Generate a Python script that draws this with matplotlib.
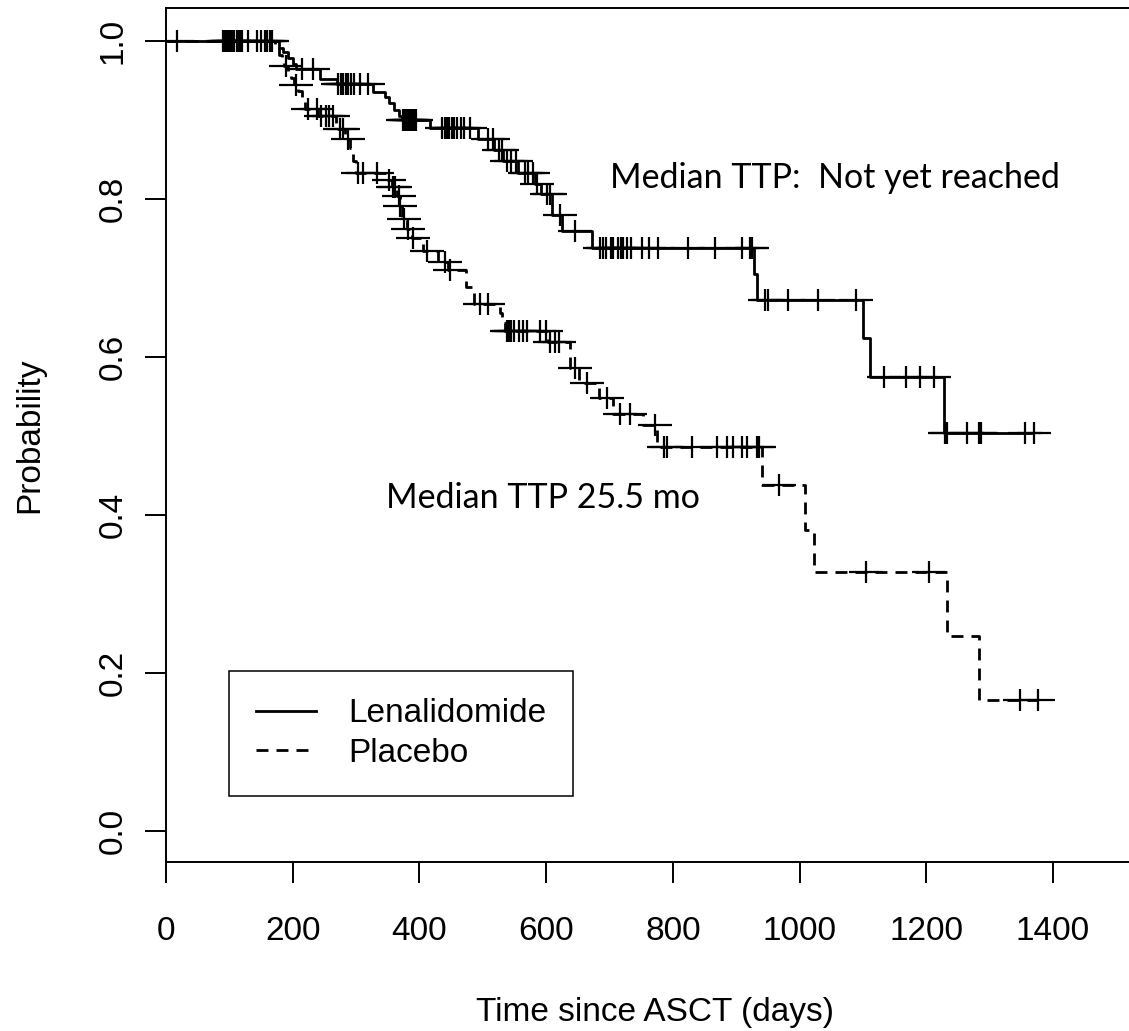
import numpy as np
import matplotlib
matplotlib.use("Agg")
import matplotlib.pyplot as plt
from matplotlib.path import Path
from matplotlib.lines import Line2D

# ---------------- data ----------------
# Lenalidomide arm: event times (days) and survival after each event
len_event_times = [178, 185, 192, 200, 205, 243, 270, 327, 345, 352, 360, 367, 372,
                   417, 492, 518, 532, 555, 582, 592, 610, 625, 672, 928, 933,
                   1100, 1111, 1228]
len_surv = [0.990, 0.985, 0.978, 0.970, 0.964, 0.951, 0.945, 0.935, 0.928, 0.921,
            0.912, 0.905, 0.899, 0.889, 0.875, 0.862, 0.848, 0.833, 0.818, 0.806,
            0.779, 0.759, 0.738, 0.705, 0.672, 0.624, 0.574, 0.503]
len_censor_times = [17, 90, 96, 100, 105, 112, 118, 130, 143, 157, 164, 215, 232,
                    272, 276, 280, 284, 288, 292, 296, 306, 319,
                    374, 377, 380, 383, 386, 389, 392, 395,
                    435, 440, 444, 447, 452, 455, 460, 465, 470, 480,
                    508, 516, 525, 530, 538, 545, 552, 567, 572, 579, 586, 601, 606,
                    622, 646, 685, 690, 695, 702, 706, 713, 718, 721, 727, 734, 751,
                    762, 777, 824, 866, 909, 921, 925, 946, 950, 982, 1029, 1089,
                    1133, 1168, 1190, 1212, 1229, 1232, 1264, 1283, 1287, 1356, 1370]

# Placebo arm
plc_event_times = [172, 178, 183, 187, 192, 197, 202, 208, 214, 220, 240, 268, 272,
                   283, 290, 295, 300, 348, 356, 364, 369, 372, 380, 388, 405, 430,
                   445, 474, 486, 527, 531, 535, 603, 638, 652, 683, 705, 753, 775,
                   941, 1008, 1023, 1233, 1283]
plc_surv = [0.990, 0.982, 0.975, 0.968, 0.960, 0.952, 0.944, 0.936, 0.927, 0.913,
            0.904, 0.895, 0.888, 0.876, 0.864, 0.848, 0.832, 0.824, 0.815, 0.803,
            0.790, 0.774, 0.762, 0.750, 0.734, 0.720, 0.710, 0.688, 0.667, 0.655,
            0.643, 0.633, 0.618, 0.585, 0.567, 0.547, 0.528, 0.513, 0.485, 0.437,
            0.381, 0.327, 0.246, 0.165]
plc_censor_times = [93, 98, 103, 108, 115, 120, 150, 160, 167, 190, 205, 224, 238,
                    245, 252, 258, 264, 275, 280, 287, 303, 311, 333, 352, 359, 362,
                    367, 370, 376, 382, 390, 412, 440, 449, 496, 508, 538, 541, 545,
                    550, 557, 563, 570, 590, 600, 606, 614, 620, 646, 664, 696, 717,
                    732, 772, 786, 791, 830, 869, 886, 895, 909, 917, 933, 936, 968,
                    1105, 1204, 1348, 1376]

arm_labels = ["Lenalidomide", "Placebo"]
x_ticks = [0, 200, 400, 600, 800, 1000, 1200, 1400]
y_ticks = [0.0, 0.2, 0.4, 0.6, 0.8, 1.0]
y_tick_labels = ["0.0", "0.2", "0.4", "0.6", "0.8", "1.0"]

# ---------------- styling ----------------
plt.rcParams['font.family'] = ['Liberation Sans', 'DejaVu Sans']

W, H = 1129, 1031
fig = plt.figure(figsize=(W / 100, H / 100), dpi=100)
ax_left, ax_right, ax_top, ax_bottom = 166, 1143, 8, 862
ax = fig.add_axes([ax_left / W, 1 - ax_bottom / H,
                   (ax_right - ax_left) / W, (ax_bottom - ax_top) / H])

ax.set_xlim(0, 1542)
ax.set_ylim(-0.0396, 1.0412)

plus = Path([(-1, 0), (1, 0), (0, -0.67), (0, 0.67)],
            [Path.MOVETO, Path.LINETO, Path.MOVETO, Path.LINETO])


def km_curve(events, surv, censors):
    end = max(max(censors), max(events))
    xs = [0] + list(events) + [end]
    ys = [1.0] + list(surv) + [surv[-1]]
    ev = np.asarray(events)
    sv = np.asarray([1.0] + list(surv))
    idx = np.searchsorted(ev, np.asarray(censors), side='right')
    cy = sv[idx]
    return xs, ys, cy


lw = 2.0
dash = (0, (4.3, 2.9))
for events, surv, censors, ls in [
        (len_event_times, len_surv, len_censor_times, '-'),
        (plc_event_times, plc_surv, plc_censor_times, dash)]:
    xs, ys, cy = km_curve(events, surv, censors)
    ax.step(xs, ys, where='post', color='black', lw=lw, linestyle=ls,
            dash_capstyle='butt', solid_capstyle='butt')
    ax.plot(censors, cy, linestyle='none', marker=plus, markersize=23.8,
            markeredgewidth=1.6, markeredgecolor='black', markerfacecolor='none')

ax.spines['right'].set_visible(False)
for s in ['left', 'bottom', 'top']:
    ax.spines[s].set_linewidth(1.4)

ax.set_xticks(x_ticks)
ax.set_xticklabels([str(v) for v in x_ticks])
ax.set_yticks(y_ticks)
ax.set_yticklabels(y_tick_labels, rotation=90, va='center')
ax.tick_params(axis='both', direction='out', length=15, width=1.4, labelsize=24)
ax.tick_params(axis='x', pad=24)
ax.tick_params(axis='y', pad=12)

fig.text(654.5 / W, 1 - 1012 / H, "Time since ASCT (days)", ha='center', va='center',
         fontsize=24)
fig.text(30 / W, 1 - 435 / H, "Probability", ha='center', va='center',
         rotation=90, fontsize=24)

ax.text(701, 0.813, "Median TTP:  Not yet reached", family=['Lato', 'DejaVu Sans'],
        fontsize=24.5, ha='left', va='baseline')
ax.text(347, 0.408, "Median TTP 25.5 mo", family=['Lato', 'DejaVu Sans'],
        fontsize=24.5, ha='left', va='baseline')

handles = [Line2D([], [], color='black', lw=lw, linestyle='-'),
           Line2D([], [], color='black', lw=lw, linestyle=dash,
                  dash_capstyle='butt')]
leg = ax.legend(handles, arm_labels, loc='upper left',
                bbox_to_anchor=(229 / W, 1 - 671 / H), bbox_transform=fig.transFigure,
                borderaxespad=0, fontsize=24, handlelength=1.8, handletextpad=0.95,
                borderpad=0.82, labelspacing=0.25, fancybox=False, framealpha=1,
                edgecolor='black')
leg.get_frame().set_linewidth(1.1)

fig.savefig("out.png", dpi=100)
